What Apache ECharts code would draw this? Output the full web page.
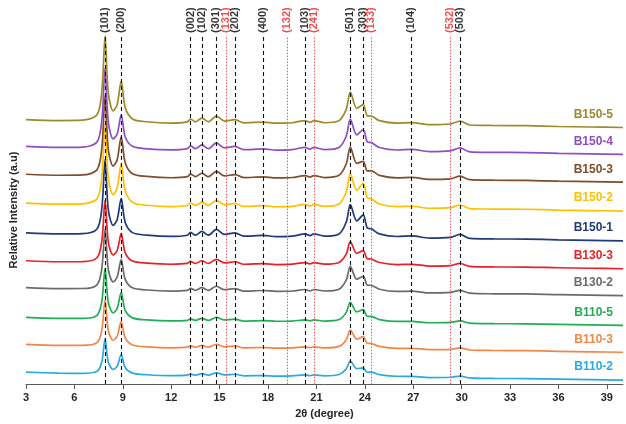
<!DOCTYPE html>
<html><head><meta charset="utf-8">
<script src="https://cdn.jsdelivr.net/npm/echarts@6/dist/echarts.min.js"></script>
<style>html,body{margin:0;padding:0;background:#fff}#c{width:626px;height:424px}</style>
</head><body><div id="c"></div>
<script>
// 2θ sample positions (degree)
const twoTheta = [3,5,6.5,7.4,7.7,7.9,8.1,8.4,8.65,8.9,9.15,9.6,10.5,12,13.0,13.2,13.5,13.9,14.3,14.8,15.3,15.95,16.5,17.7,18.5,19.5,20.3,20.6,20.85,21.5,22.4,22.85,23.1,23.5,23.9,24.15,24.4,24.9,26.0,26.9,28.0,29.3,29.9,30.5,32,34,36,38,40];

// sample names, top to bottom
const sampleNames = ['B150-5','B150-4','B150-3','B150-2','B150-1','B130-3','B130-2','B110-5','B110-3','B110-2'];
// vertical stacking offsets (a.u.)
const stackOffsets = [258,231,203,174,144,116,89,59,32,4];

// intensities (a.u.), one per 2θ position
const I_B150_5 = [8,7,7.4,12.8,36.2,91.8,34.8,16.7,23,46.7,20,8.6,5.8,4.5,5.7,8.5,5.7,9.5,5.7,11.5,6.5,8,4.7,5.5,4.3,4.8,7,5.2,7,4.8,6.9,18.5,35.5,19.3,23,11.9,11.6,6.9,4.4,5,2.8,3.5,6.5,2.5,2,1.8,1,0.5,0];
const I_B150_4 = [8,7,7.3,12.4,34.3,86.6,32.9,15.6,20.4,39.6,17.5,8.1,5.6,4.5,5.7,8.5,5.7,9.5,5.7,11.5,6.5,8,4.7,5.5,4.3,4.8,7,5.2,7,4.8,6.9,18.5,35.5,19.6,25,12.5,11.8,6.9,4.4,5,2.8,3.5,6.5,2.5,2,1.8,1,0.5,0];
const I_B150_3 = [8,7,7.3,12.4,34.4,86.8,33.1,16.2,22.5,45.6,19.6,8.5,5.8,4.5,5.6,8.1,5.6,9,5.6,10.8,6.3,7.7,4.6,5.4,4.3,4.7,6.7,5.1,6.7,4.7,6.9,18.5,35.4,19,21,11.3,11.4,6.9,4.4,4.8,2.8,3.4,6.1,2.5,2,1.8,1,0.5,0];
const I_B150_2 = [8,7,7.3,12.4,34.4,86.8,33.2,16.4,23.2,47.6,20.3,8.7,5.8,4.5,5.6,8.1,5.6,9,5.6,10.8,6.3,7.7,4.6,5.4,4.3,4.7,6.7,5.1,6.7,4.7,7.1,19.4,37.6,20.8,28.2,13.6,12.4,7.1,4.5,4.8,2.8,3.4,6.1,2.5,2,1.8,1,0.5,0];
const I_B150_1 = [8,7,7.3,12,32.6,81.7,31.4,15.5,21.3,42.5,18.5,8.3,5.7,4.5,5.7,8.5,5.7,9.5,5.7,11.5,6.5,8,4.7,5.5,4.3,4.8,7,5.2,7,4.8,7,19,36.5,20.1,26.1,12.9,12.1,7,4.4,5,2.8,3.5,6.5,2.5,2,1.8,1,0.5,0];
const I_B130_3 = [8,7,7.1,11,28,68.6,26.9,13.8,18.3,35.2,15.9,7.7,5.6,4.5,5.3,7.3,5.3,8,5.3,9.4,5.9,7,4.5,5.1,4.2,4.6,6.1,4.8,6.1,4.6,6.3,14.9,27.3,15.5,18.2,10.1,9.8,6.3,4.2,4.4,2.7,3.2,5.3,2.4,1.8,1.7,1,0.5,0];
const I_B130_2 = [8,7,7.1,10.8,27.3,66.6,26.4,13.7,18.6,36.2,16.3,7.8,5.6,4.5,5.3,7.3,5.3,8,5.3,9.4,5.9,7,4.5,5.1,4.2,4.6,6.1,4.8,6.1,4.6,6.4,15.8,29.4,16.4,19.4,10.5,10.3,6.4,4.2,4.4,2.7,3.2,5.3,2.4,1.8,1.7,1,0.5,0];
const I_B110_5 = [8,7,7,10.1,24.2,57.5,23.3,12.7,17.1,33,15.1,7.6,5.5,4.5,5.1,6.5,5.1,7,5.1,8,5.5,6.3,4.4,4.8,4.2,4.4,5.5,4.6,5.5,4.4,5.9,13.1,23.3,13.6,15.8,9.1,9,5.9,4,4,2.7,3,4.5,2.3,1.8,1.6,1,0.5,0];
const I_B110_3 = [8,7,7,9.7,22.3,52.5,21.7,12.1,16.2,30.9,14.4,7.4,5.5,4.5,5.1,6.5,5.1,7,5.1,8,5.5,6.3,4.4,4.8,4.2,4.4,5.5,4.6,5.5,4.4,5.9,12.7,22.3,13.2,15.7,9.1,8.8,5.9,4,4,2.7,3,4.5,2.3,1.8,1.6,1,0.5,0];
const I_B110_2 = [8,7,6.8,8.8,18.5,41.4,18,10.7,14.1,25.7,12.6,7,5.4,4.5,5,6.1,5,6.5,5,7.3,5.3,5.9,4.3,4.6,4.1,4.3,5.2,4.5,5.2,4.3,5.6,11.3,19.2,11.5,12.4,7.9,8,5.6,3.9,3.8,2.6,2.9,4.1,2.2,1.7,1.6,1,0.5,0];

const intensities = [I_B150_5,I_B150_4,I_B150_3,I_B150_2,I_B150_1,I_B130_3,I_B130_2,I_B110_5,I_B110_3,I_B110_2];

// reference reflections
const peakPositions = [7.9,8.9,13.2,13.9,14.8,15.4,15.95,17.7,19.2,20.3,20.85,23.1,23.9,24.4,26.85,29.3,29.9];
const peakLabels = ['(101)','(200)','(002)','(102)','(301)','(131)','(202)','(400)','(132)','(103)','(241)','(501)','(303)','(133)','(104)','(532)','(503)'];
const peakGroup = ['a','a','a','a','a','b','a','a','b','a','b','a','a','b','a','b','a'];

// styles
const lineColors = ['#9C8A2C','#8E4FC6','#7E4E2C','#FFC000','#1F3A78','#E8202A','#6B6B6B','#21AD55','#F0864A','#2BAAE0'];
const yTop = 350;

const chart = echarts.init(document.getElementById('c'), null, {renderer:'canvas'});

const lineSeries = [];
for (let k = sampleNames.length - 1; k >= 0; k--) {
  const vals = intensities[k];
  const data = twoTheta.map((x, i) => [x, vals[i] + stackOffsets[k]]);
  lineSeries.push({
    name: sampleNames[k],
    type: 'line',
    data: data,
    showSymbol: false,
    smooth: 0.3,
    lineStyle: {color: lineColors[k], width: 1.7},
    itemStyle: {color: lineColors[k]},
    z: 2,
    markPoint: {
      symbol: 'circle', symbolSize: 0, silent: true,
      data: [{coord: data[data.length - 1], value: sampleNames[k]}],
      label: {show: true, position: 'left', distance: 10, offset: [0, -13],
        formatter: sampleNames[k], color: lineColors[k], fontWeight: 'bold', fontSize: 12,
        fontFamily: 'Liberation Sans, Arial, sans-serif'}
    }
  });
}

const peakSeries = {
  type: 'scatter',
  symbolSize: 0,
  clip: false,
  z: 5,
  silent: true,
  data: peakPositions.map((p, i) => ({
    value: [p, yTop],
    label: {color: peakGroup[i] === 'b' ? '#F02020' : '#000'}
  })),
  label: {
    show: true, position: 'top', distance: 3, rotate: 90,
    align: 'left', verticalAlign: 'middle',
    formatter: (p) => peakLabels[p.dataIndex],
    fontSize: 11, fontWeight: 'bold', fontFamily: 'Liberation Sans, Arial, sans-serif'
  },
  markLine: {
    silent: true, symbol: ['none','none'], animation: false,
    label: {show: false},
    data: peakPositions.map((p, i) => ({
      xAxis: p,
      lineStyle: peakGroup[i] === 'b'
        ? {color: '#F25A5A', type: [1.5, 1.5], width: 1}
        : {color: '#111', type: [4, 3], width: 1.1}
    }))
  }
};

chart.setOption({
  animation: false,
  grid: {left: 21, right: 3, top: 36, bottom: 38},
  xAxis: {
    type: 'value', min: 3, max: 40, interval: 3,
    name: '2θ (degree)', nameLocation: 'middle', nameGap: 23,
    nameTextStyle: {fontWeight: 'bold', fontSize: 11, color: '#262626', fontFamily: 'Liberation Sans, Arial, sans-serif'},
    axisLine: {show: true, lineStyle: {color: '#5a5a5a', width: 1}},
    axisTick: {show: true, length: 5, lineStyle: {color: '#5a5a5a'}},
    axisLabel: {fontWeight: 'bold', fontSize: 11, color: '#262626', margin: 8, showMaxLabel: false,
      fontFamily: 'Liberation Sans, Arial, sans-serif'},
    splitLine: {show: false}
  },
  yAxis: {
    type: 'value', min: 0, max: yTop,
    name: 'Relative Intensity (a.u)', nameLocation: 'middle', nameGap: 7,
    nameTextStyle: {fontWeight: 'bold', fontSize: 11, color: '#262626', fontFamily: 'Liberation Sans, Arial, sans-serif'},
    axisLine: {show: false}, axisTick: {show: false}, axisLabel: {show: false}, splitLine: {show: false}
  },
  series: lineSeries.concat([peakSeries])
});
</script>
</body></html>
